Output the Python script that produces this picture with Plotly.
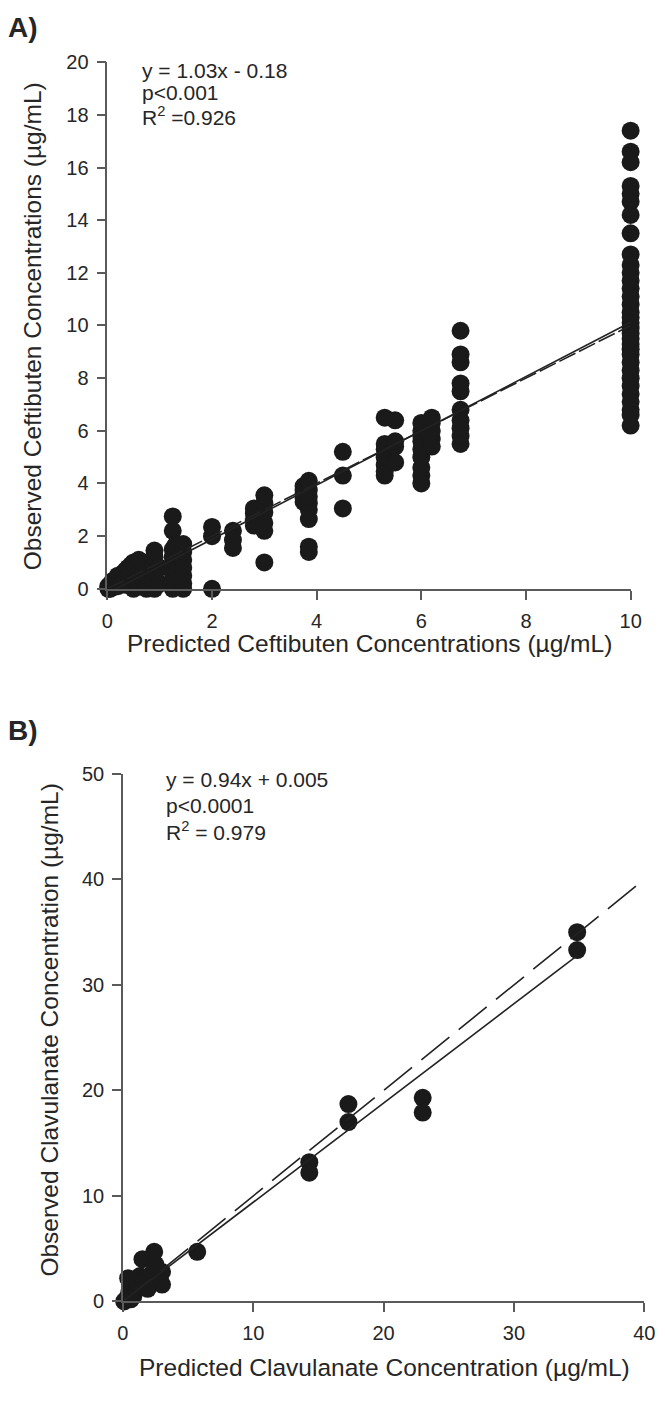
import plotly.graph_objects as go

# ---------------- Panel A: Ceftibuten ----------------
pred_a = (
    [0.02] * 3 + [0.05] * 3 + [0.1] * 3 + [0.15] * 2 + [0.2] * 4 + [0.25] * 2 + [0.3] * 3
    + [0.35] * 3 + [0.4] * 3 + [0.45] * 3 + [0.5] * 4 + [0.55] * 3 + [0.6] * 3 + [0.7] * 3
    + [0.75] * 3 + [0.9] * 6 + [1.0] * 2 + [1.25] * 8 + [1.3] * 6 + [1.45] * 7
    + [2.0] * 3 + [2.4] * 3 + [2.8] * 4 + [3.0] * 6 + [3.75] * 5 + [3.85] * 8 + [4.5] * 3
    + [5.3] * 7 + [5.5] * 4 + [6.0] * 9 + [6.2] * 5 + [6.75] * 10 + [10.0] * 33
)
obs_a = [
    0.0, 0.05, 0.1,
    0.0, 0.1, 0.15,
    0.05, 0.2, 0.3,
    0.1, 0.25,
    0.1, 0.3, 0.4, 0.5,
    0.2, 0.45,
    0.3, 0.5, 0.6,
    0.15, 0.4, 0.7,
    0.2, 0.55, 0.8,
    0.3, 0.6, 0.9,
    0.0, 0.4, 0.7, 1.0,
    0.2, 0.5, 0.85,
    0.1, 0.6, 1.1,
    0.3, 0.7, 1.0,
    0.0, 0.5, 0.9,
    0.0, 0.3, 0.6, 0.9, 1.2, 1.45,
    0.2, 0.8,
    0.0, 0.3, 0.6, 0.9, 1.2, 1.5, 2.2, 2.75,
    0.15, 0.45, 0.75, 1.05, 1.35, 1.65,
    0.0, 0.2, 0.5, 0.8, 1.1, 1.4, 1.7,
    0.0, 2.0, 2.35,
    1.55, 1.85, 2.2,
    2.4, 2.6, 2.85, 3.05,
    1.0, 2.2, 2.5, 2.9, 3.25, 3.55,
    3.3, 3.45, 3.6, 3.75, 3.9,
    1.4, 1.6, 2.65, 3.0, 3.25, 3.5, 3.75, 4.1,
    3.05, 4.3, 5.2,
    4.3, 4.45, 4.7, 5.0, 5.3, 5.5, 6.5,
    4.8, 5.4, 5.6, 6.4,
    4.0, 4.3, 4.6, 5.0, 5.3, 5.6, 5.8, 6.0, 6.3,
    5.4, 5.7, 6.0, 6.3, 6.5,
    5.5, 5.8, 6.1, 6.4, 6.8, 7.5, 7.8, 8.6, 8.9, 9.8,
    17.4, 16.6, 16.2, 15.3, 15.0, 14.7, 14.2, 13.5, 12.7, 12.3, 12.0, 11.7, 11.4,
    11.1, 10.8, 10.5, 10.3, 10.1, 9.9, 9.7, 9.5, 9.3, 9.1, 8.9, 8.6, 8.3, 8.0,
    7.7, 7.4, 7.1, 6.8, 6.6, 6.2,
]
fit_a_slope, fit_a_intercept = 1.03, -0.18
line_a_x = [0.0, 10.0]
xticks_a = [0, 2, 4, 6, 8, 10]
yticks_a = [0, 2, 4, 6, 8, 10, 12, 14, 16, 18, 20]

# ---------------- Panel B: Clavulanate ----------------
pred_b = [0.1, 0.3, 0.5, 0.4, 0.8, 1.1, 1.3, 1.5, 1.6, 2.2, 2.4, 2.5, 2.8, 3.0, 3.0,
          1.9, 0.6, 5.7, 14.3, 14.3, 17.3, 17.3, 23.0, 23.0, 34.85, 34.85]
obs_b = [0.0, 0.3, 1.0, 2.2, 0.5, 1.3, 2.4, 4.0, 2.0, 2.6, 4.7, 3.5, 2.2, 1.6, 2.8,
         1.2, 0.2, 4.7, 13.2, 12.2, 18.7, 17.0, 19.3, 17.9, 35.0, 33.3]
fit_b_slope, fit_b_intercept = 0.94, 0.005
line_b_fit_x = [0.0, 34.85]
line_b_id_x = [0.0, 40.0]
xticks_b = [0, 10, 20, 30, 40]
yticks_b = [0, 10, 20, 30, 40, 50]

W, H = 666, 1403
FONT = "Arial, Liberation Sans, sans-serif"
INK = "#1a1a1a"
AXC = "#5a5a5a"
TXT = "#262626"

fig = go.Figure()

marker = dict(size=18, color=INK, line=dict(width=0))

fig.add_trace(go.Scatter(x=pred_a, y=obs_a, mode="markers", marker=marker,
                         cliponaxis=False, xaxis="x", yaxis="y", showlegend=False))
fig.add_trace(go.Scatter(x=line_a_x, y=[fit_a_slope * v + fit_a_intercept for v in line_a_x],
                         mode="lines", line=dict(color="#222", width=1.6),
                         xaxis="x", yaxis="y", showlegend=False))
fig.add_trace(go.Scatter(x=line_a_x, y=line_a_x, mode="lines",
                         line=dict(color="#222", width=1.6, dash="18px,4px"),
                         xaxis="x", yaxis="y", showlegend=False))

fig.add_trace(go.Scatter(x=pred_b, y=obs_b, mode="markers", marker=marker,
                         cliponaxis=False, xaxis="x2", yaxis="y2", showlegend=False))
fig.add_trace(go.Scatter(x=line_b_fit_x, y=[fit_b_slope * v + fit_b_intercept for v in line_b_fit_x],
                         mode="lines", line=dict(color="#222", width=1.6),
                         xaxis="x2", yaxis="y2", showlegend=False))
fig.add_trace(go.Scatter(x=line_b_id_x, y=line_b_id_x, mode="lines",
                         line=dict(color="#222", width=1.6, dash="36px,12px"),
                         xaxis="x2", yaxis="y2", showlegend=False))

axis_common = dict(showline=True, linecolor=AXC, linewidth=1.5, ticks="outside",
                   ticklen=9, tickwidth=1.5, tickcolor=AXC, showgrid=False, zeroline=False,
                   ticklabelstandoff=4,
                   tickfont=dict(family=FONT, size=20, color=TXT), mirror=False)

def px_x(p):
    return p / W

def px_y(p):
    return 1 - p / H

fig.update_layout(
    width=W, height=H,
    margin=dict(l=0, r=0, t=0, b=0),
    paper_bgcolor="white", plot_bgcolor="white",
    xaxis=dict(domain=[px_x(104), px_x(641)], range=[0, 10], tickvals=xticks_a,
               anchor="y", **axis_common),
    yaxis=dict(domain=[px_y(587), px_y(52)], range=[0, 20], tickvals=yticks_a,
               anchor="x", **axis_common),
    xaxis2=dict(domain=[px_x(120), px_x(655)], range=[0, 40], tickvals=xticks_b,
                anchor="y2", **axis_common),
    yaxis2=dict(domain=[px_y(1311), px_y(775)], range=[0, 50], tickvals=yticks_b,
                anchor="x2", **axis_common),
)

ann = []
def text(x, y, s, size=20, xanchor="left", yanchor="middle", angle=0):
    ann.append(dict(x=px_x(x), y=px_y(y), xref="paper", yref="paper", text=s,
                    showarrow=False, xanchor=xanchor, yanchor=yanchor, textangle=angle,
                    font=dict(family=FONT, size=size, color=TXT)))

text(0, 17, "<b>A)</b>", size=28)
text(0, 731, "<b>B)</b>", size=28)

text(137, 60, "y = 1.03x - 0.18", size=21)
text(137, 83, "p&lt;0.001", size=21)
text(137, 107, "R<sup>2</sup> =0.926", size=21)

text(162, 781, "y = 0.94x + 0.005", size=21)
text(162, 807, "p&lt;0.0001", size=21)
text(162, 833, "R<sup>2</sup> = 0.979", size=21)

text(373, 643, "Predicted Ceftibuten Concentrations (\u00b5g/mL)", size=24.5, xanchor="center")
text(28, 320, "Observed Ceftibuten Concentrations (\u00b5g/mL)", size=24.5, xanchor="center", angle=-90)
text(388, 1378, "Predicted Clavulanate Concentration (\u00b5g/mL)", size=24.5, xanchor="center")
text(45, 1035, "Observed Clavulanate Concentration (\u00b5g/mL)", size=24.5, xanchor="center", angle=-90)

fig.update_layout(annotations=ann)
fig.write_html("out.html", config={"displayModeBar": False},
               post_script="document.body.style.margin='0';document.body.style.overflow='hidden';")
